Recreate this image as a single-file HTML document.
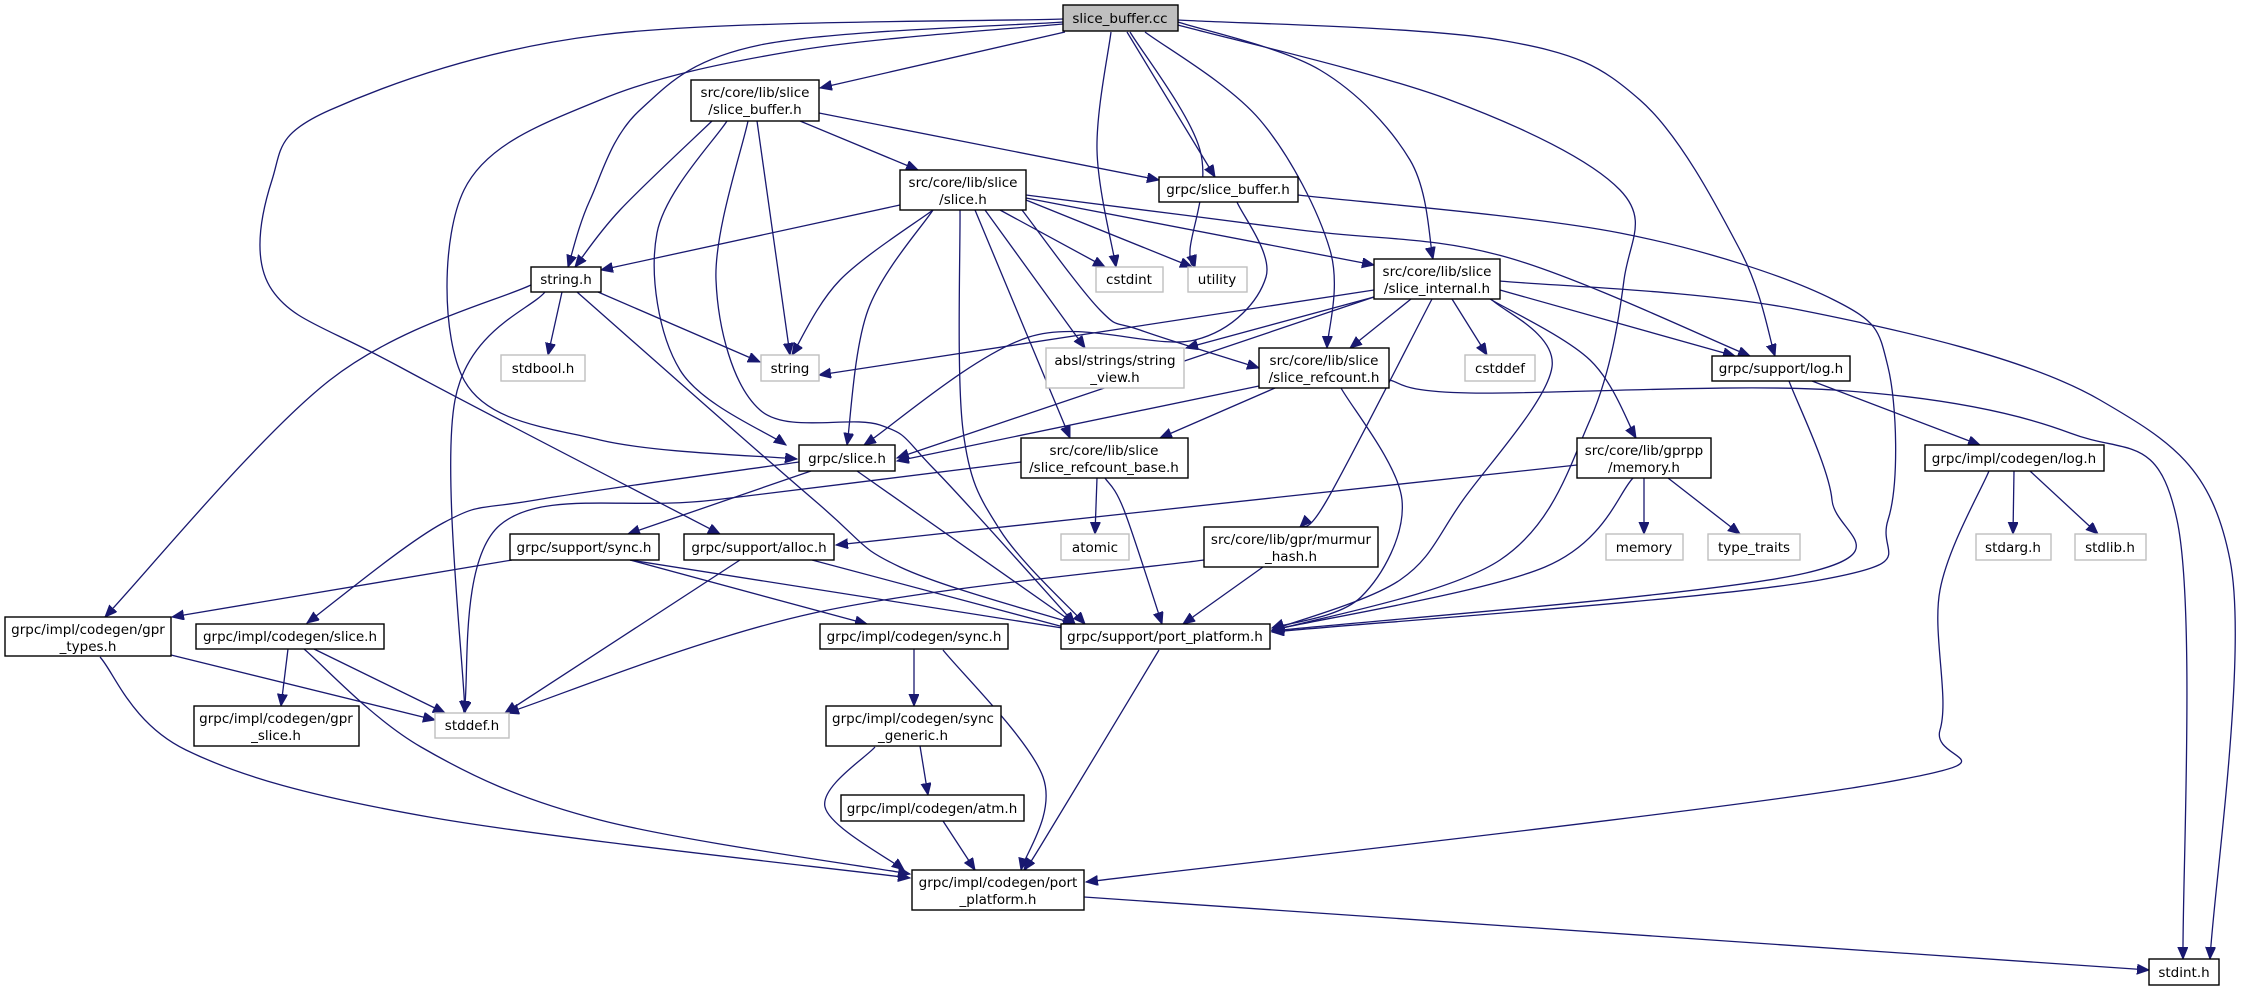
<!DOCTYPE html>
<html><head><meta charset="utf-8"><style>
html,body{margin:0;padding:0;background:#fff;}
svg{display:block;}
text{font-family:"DejaVu Sans","Liberation Sans",sans-serif;font-size:13.5px;fill:#000;}
.n{fill:#fff;stroke:#000;stroke-width:1.4;}
.g{fill:#fff;stroke:#bfbfbf;stroke-width:1.4;}
.r{fill:#bfbfbf;stroke:#000;stroke-width:1.4;}
.e{fill:none;stroke:#191970;stroke-width:1.3;}
</style></head><body>
<svg id="s" width="2241" height="991" viewBox="0 0 2241 991" xmlns="http://www.w3.org/2000/svg">
<defs><marker id="a" markerUnits="userSpaceOnUse" markerWidth="14" markerHeight="12" refX="12" refY="5" orient="auto"><path d="M0,0 L12,5 L0,10 z" fill="#191970" stroke="#191970"/></marker></defs>
<g id="edges"></g>
<g text-anchor="middle">
<rect class="r" x="1063" y="5" width="115" height="26"/><text x="1120" y="23">slice_buffer.cc</text>
<rect class="n" x="691" y="80" width="128" height="41"/><text x="755" y="97">src/core/lib/slice</text><text x="755" y="114">/slice_buffer.h</text>
<rect class="n" x="900" y="170" width="126" height="40"/><text x="963" y="187">src/core/lib/slice</text><text x="963" y="204">/slice.h</text>
<rect class="n" x="531" y="267" width="70" height="25"/><text x="566" y="284">string.h</text>
<rect class="g" x="501" y="355" width="84" height="26"/><text x="543" y="373">stdbool.h</text>
<rect class="g" x="761" y="355" width="58" height="26"/><text x="790" y="373">string</text>
<rect class="n" x="799" y="445" width="96" height="26"/><text x="847" y="463">grpc/slice.h</text>
<rect class="g" x="1046" y="348" width="138" height="40"/><text x="1115" y="365">absl/strings/string</text><text x="1115" y="382">_view.h</text>
<rect class="n" x="1021" y="438" width="167" height="40"/><text x="1104" y="455">src/core/lib/slice</text><text x="1104" y="472">/slice_refcount_base.h</text>
<rect class="n" x="1159" y="177" width="139" height="25"/><text x="1228" y="194">grpc/slice_buffer.h</text>
<rect class="g" x="1096" y="267" width="67" height="25"/><text x="1129" y="284">cstdint</text>
<rect class="g" x="1188" y="267" width="59" height="25"/><text x="1217" y="284">utility</text>
<rect class="n" x="1374" y="259" width="126" height="40"/><text x="1437" y="276">src/core/lib/slice</text><text x="1437" y="293">/slice_internal.h</text>
<rect class="n" x="1259" y="348" width="130" height="40"/><text x="1324" y="365">src/core/lib/slice</text><text x="1324" y="382">/slice_refcount.h</text>
<rect class="g" x="1465" y="355" width="70" height="26"/><text x="1500" y="373">cstddef</text>
<rect class="n" x="1712" y="356" width="138" height="25"/><text x="1781" y="373">grpc/support/log.h</text>
<rect class="n" x="1577" y="438" width="134" height="40"/><text x="1644" y="455">src/core/lib/gprpp</text><text x="1644" y="472">/memory.h</text>
<rect class="n" x="1925" y="445" width="179" height="26"/><text x="2014" y="463">grpc/impl/codegen/log.h</text>
<rect class="n" x="510" y="534" width="149" height="26"/><text x="584" y="552">grpc/support/sync.h</text>
<rect class="n" x="684" y="534" width="150" height="26"/><text x="759" y="552">grpc/support/alloc.h</text>
<rect class="g" x="1061" y="534" width="68" height="26"/><text x="1095" y="552">atomic</text>
<rect class="n" x="1204" y="527" width="174" height="40"/><text x="1291" y="544">src/core/lib/gpr/murmur</text><text x="1291" y="561">_hash.h</text>
<rect class="g" x="1606" y="534" width="77" height="26"/><text x="1644" y="552">memory</text>
<rect class="g" x="1708" y="534" width="92" height="26"/><text x="1754" y="552">type_traits</text>
<rect class="g" x="1976" y="534" width="75" height="26"/><text x="2013" y="552">stdarg.h</text>
<rect class="g" x="2075" y="534" width="71" height="26"/><text x="2110" y="552">stdlib.h</text>
<rect class="n" x="5" y="617" width="166" height="39"/><text x="88" y="634">grpc/impl/codegen/gpr</text><text x="88" y="651">_types.h</text>
<rect class="n" x="196" y="624" width="188" height="25"/><text x="290" y="641">grpc/impl/codegen/slice.h</text>
<rect class="n" x="820" y="624" width="188" height="25"/><text x="914" y="641">grpc/impl/codegen/sync.h</text>
<rect class="n" x="1061" y="624" width="209" height="25"/><text x="1165" y="641">grpc/support/port_platform.h</text>
<rect class="n" x="194" y="706" width="165" height="40"/><text x="276" y="723">grpc/impl/codegen/gpr</text><text x="276" y="740">_slice.h</text>
<rect class="g" x="435" y="713" width="74" height="25"/><text x="472" y="730">stddef.h</text>
<rect class="n" x="826" y="706" width="175" height="40"/><text x="913" y="723">grpc/impl/codegen/sync</text><text x="913" y="740">_generic.h</text>
<rect class="n" x="841" y="795" width="183" height="26"/><text x="932" y="813">grpc/impl/codegen/atm.h</text>
<rect class="n" x="912" y="870" width="172" height="40"/><text x="998" y="887">grpc/impl/codegen/port</text><text x="998" y="904">_platform.h</text>
<rect class="n" x="2149" y="959" width="70" height="26"/><text x="2184" y="977">stdint.h</text>
</g>
</svg>
<script>
var E=[
[[1065,32],[820,88]],
[[1063,22],[760,45],[640,110],[590,200],[568,267]],
[[1063,24],[800,50],[600,100],[464,190],[464,380],[600,440],[797,459]],
[[1063,19],[600,35],[330,110],[272,180],[272,290],[400,367],[720,534]],
[[1127,32],[1215,177]],
[[1111,32],[1097,150],[1116,267]],
[[1130,32],[1200,150],[1190,250],[1195,267]],
[[1145,32],[1260,120],[1330,250],[1327,348]],
[[1178,22],[1320,70],[1410,160],[1433,259]],
[[1178,25],[1450,100],[1620,190],[1624,280],[1590,420],[1500,560],[1272,631]],
[[1178,20],[1500,40],[1640,100],[1740,250],[1775,356]],
[[712,121],[620,210],[575,267]],
[[727,121],[657,233],[680,370],[786,445]],
[[757,121],[790,355]],
[[748,121],[716,280],[760,410],[880,425],[935,470],[1075,624]],
[[800,121],[918,170]],
[[819,113],[1159,180]],
[[900,205],[601,270]],
[[933,210],[840,280],[792,355]],
[[933,210],[868,310],[847,445]],
[[1000,210],[1105,267]],
[[1026,200],[1192,267]],
[[1026,198],[1374,265]],
[[985,210],[1085,348]],
[[1026,195],[1300,230],[1506,257],[1750,356]],
[[975,210],[1070,438]],
[[960,210],[963,430],[1000,530],[1085,624]],
[[1022,210],[1100,310],[1140,330],[1259,368]],
[[562,292],[548,355]],
[[598,292],[760,362]],
[[545,292],[455,400],[465,713]],
[[531,285],[330,380],[105,617]],
[[577,292],[814,500],[900,567],[1075,624]],
[[1237,202],[1266,277],[1195,340],[1029,337],[864,445]],
[[1298,195],[1620,233],[1834,300],[1888,367],[1888,520],[1820,580],[1272,632]],
[[1374,290],[819,375]],
[[1374,297],[897,458]],
[[1411,299],[1350,348]],
[[1452,299],[1487,355]],
[[1500,290],[1735,356]],
[[1490,299],[1590,360],[1636,438]],
[[1432,299],[1327,500],[1300,527]],
[[1491,299],[1552,367],[1463,500],[1400,580],[1272,630]],
[[1500,281],[1800,310],[2100,400],[2230,560],[2210,959]],
[[1374,297],[1186,348]],
[[1259,386],[897,461]],
[[1275,388],[1160,438]],
[[1341,388],[1402,500],[1361,597],[1272,628]],
[[1389,380],[1470,393],[1834,390],[2070,433],[2177,520],[2183,959]],
[[1812,381],[1980,445]],
[[1789,381],[1832,500],[1806,573],[1272,631]],
[[1577,465],[836,545]],
[[1644,478],[1644,534]],
[[1668,478],[1740,534]],
[[1633,478],[1545,567],[1272,630]],
[[2014,471],[2013,534]],
[[2030,471],[2098,534]],
[[1989,471],[1940,590],[1940,730],[1882,783],[1086,882]],
[[799,462],[536,500],[443,523],[307,623]],
[[811,471],[628,534]],
[[857,471],[1075,624]],
[[1021,462],[714,500],[500,525],[464,713]],
[[1097,478],[1095,534]],
[[1105,478],[1124,510],[1162,624]],
[[512,560],[172,617]],
[[630,560],[867,624]],
[[630,560],[1075,630]],
[[740,560],[505,713]],
[[812,560],[1075,630]],
[[1204,560],[814,613],[507,713]],
[[1263,567],[1183,624]],
[[171,655],[435,720]],
[[100,657],[186,750],[429,817],[910,878]],
[[288,649],[281,706]],
[[314,649],[445,713]],
[[304,649],[421,747],[600,820],[910,874]],
[[914,649],[914,706]],
[[943,650],[1043,777],[1021,870]],
[[920,746],[928,795]],
[[875,747],[825,807],[904,870]],
[[943,821],[975,870]],
[[1159,650],[1040,847],[1024,870]],
[[1084,897],[2149,970]]
];
function d(p){if(p.length==2)return "M"+p[0]+" L"+p[1];var s="M"+p[0][0]+","+p[0][1];
for(var i=0;i<p.length-1;i++){var p0=p[i-1]||p[i],p1=p[i],p2=p[i+1],p3=p[i+2]||p2;
var c1=[p1[0]+(p2[0]-p0[0])/6,p1[1]+(p2[1]-p0[1])/6],c2=[p2[0]-(p3[0]-p1[0])/6,p2[1]-(p3[1]-p1[1])/6];
s+=" C"+c1+" "+c2+" "+p2;}return s;}
var g=document.getElementById("edges"),h="";
E.forEach(function(p){h+='<path class="e" marker-end="url(#a)" d="'+d(p)+'"/>';});
g.innerHTML=h;
</script>
</body></html>
